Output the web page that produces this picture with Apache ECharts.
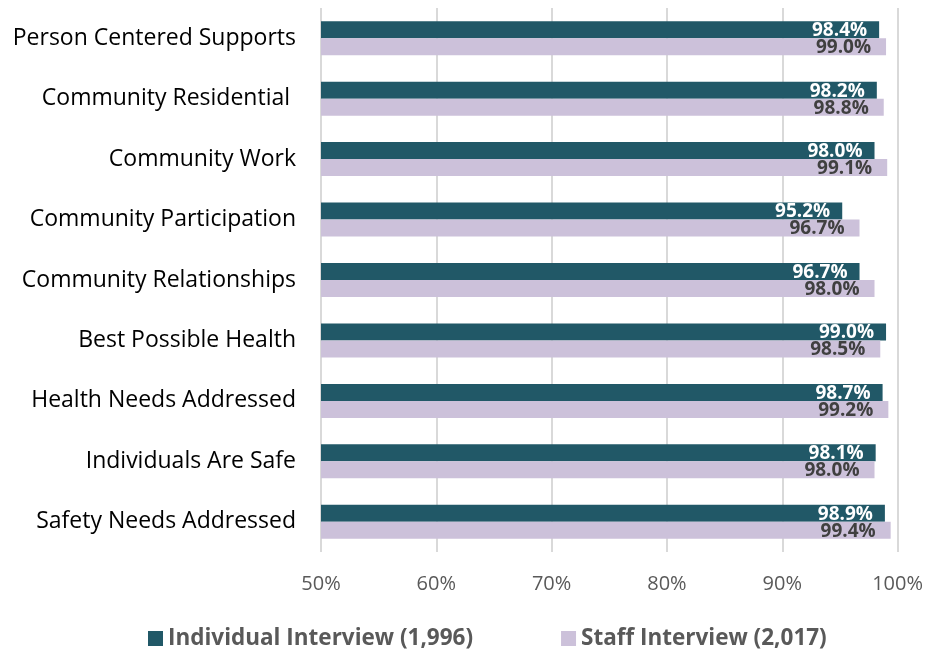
<!DOCTYPE html>
<html>
<head>
<meta charset="utf-8">
<script src="https://cdn.jsdelivr.net/npm/echarts@6/dist/echarts.min.js"></script>
<style>
  html, body { margin: 0; padding: 0; background: #fff; }
  #chart { width: 926px; height: 650px; }
</style>
</head>
<body>
<div id="chart"></div>
<script>
const categories = [
  'Person Centered Supports',
  'Community Residential ',
  'Community Work',
  'Community Participation',
  'Community Relationships',
  'Best Possible Health',
  'Health Needs Addressed',
  'Individuals Are Safe',
  'Safety Needs Addressed'
];
const individualValues = [98.4, 98.2, 98.0, 95.2, 96.7, 99.0, 98.7, 98.1, 98.9];
const staffValues = [99.0, 98.8, 99.1, 96.7, 98.0, 98.5, 99.2, 98.0, 99.4];
const seriesNames = ['Individual Interview (1,996)', 'Staff Interview (2,017)'];
const axisMin = 50, axisMax = 100, axisStep = 10;

const font = '"Open Sans", "Liberation Sans", sans-serif';
const chart = echarts.init(document.getElementById('chart'), null, { renderer: 'canvas' });

chart.setOption({
  animation: false,
  grid: { left: 321, right: 26, top: 8, bottom: 98, containLabel: false },
  xAxis: {
    type: 'value',
    min: axisMin,
    max: axisMax,
    interval: axisStep,
    axisLine: { show: false },
    axisTick: { show: false },
    splitLine: { show: true, lineStyle: { color: '#d9d9d9', width: 2 } },
    axisLabel: {
      formatter: v => v + '%',
      color: '#595959',
      fontFamily: font,
      fontSize: 20,
      margin: 22
    }
  },
  yAxis: {
    type: 'category',
    data: categories,
    inverse: true,
    axisLine: { show: false },
    axisTick: { show: false },
    axisLabel: {
      color: '#000',
      fontFamily: font,
      fontSize: 23,
      margin: 25,
      padding: [4, 0, 0, 0]
    }
  },
  legend: {
    top: 622,
    left: 143,
    itemGap: 88,
    itemWidth: 15,
    itemHeight: 15,
    icon: 'rect',
    textStyle: { color: '#595959', fontFamily: font, fontSize: 22.5, fontWeight: 'bold' },
    data: seriesNames
  },
  series: [
    {
      name: seriesNames[0],
      type: 'bar',
      data: individualValues,
      barWidth: 17,
      barGap: '0%',
      itemStyle: { color: '#215867' },
      label: {
        show: true,
        position: 'insideRight',
        offset: [0, 1],
        distance: 12,
        formatter: p => p.value.toFixed(1) + '%',
        color: '#fff',
        fontFamily: font,
        fontSize: 19,
        fontWeight: 'bold'
      }
    },
    {
      name: seriesNames[1],
      type: 'bar',
      data: staffValues,
      barWidth: 17,
      itemStyle: { color: '#ccc1da' },
      label: {
        show: true,
        position: 'insideRight',
        offset: [0, 1],
        distance: 15,
        formatter: p => p.value.toFixed(1) + '%',
        color: '#404040',
        fontFamily: font,
        fontSize: 19,
        fontWeight: 'bold'
      }
    }
  ]
});
</script>
</body>
</html>
